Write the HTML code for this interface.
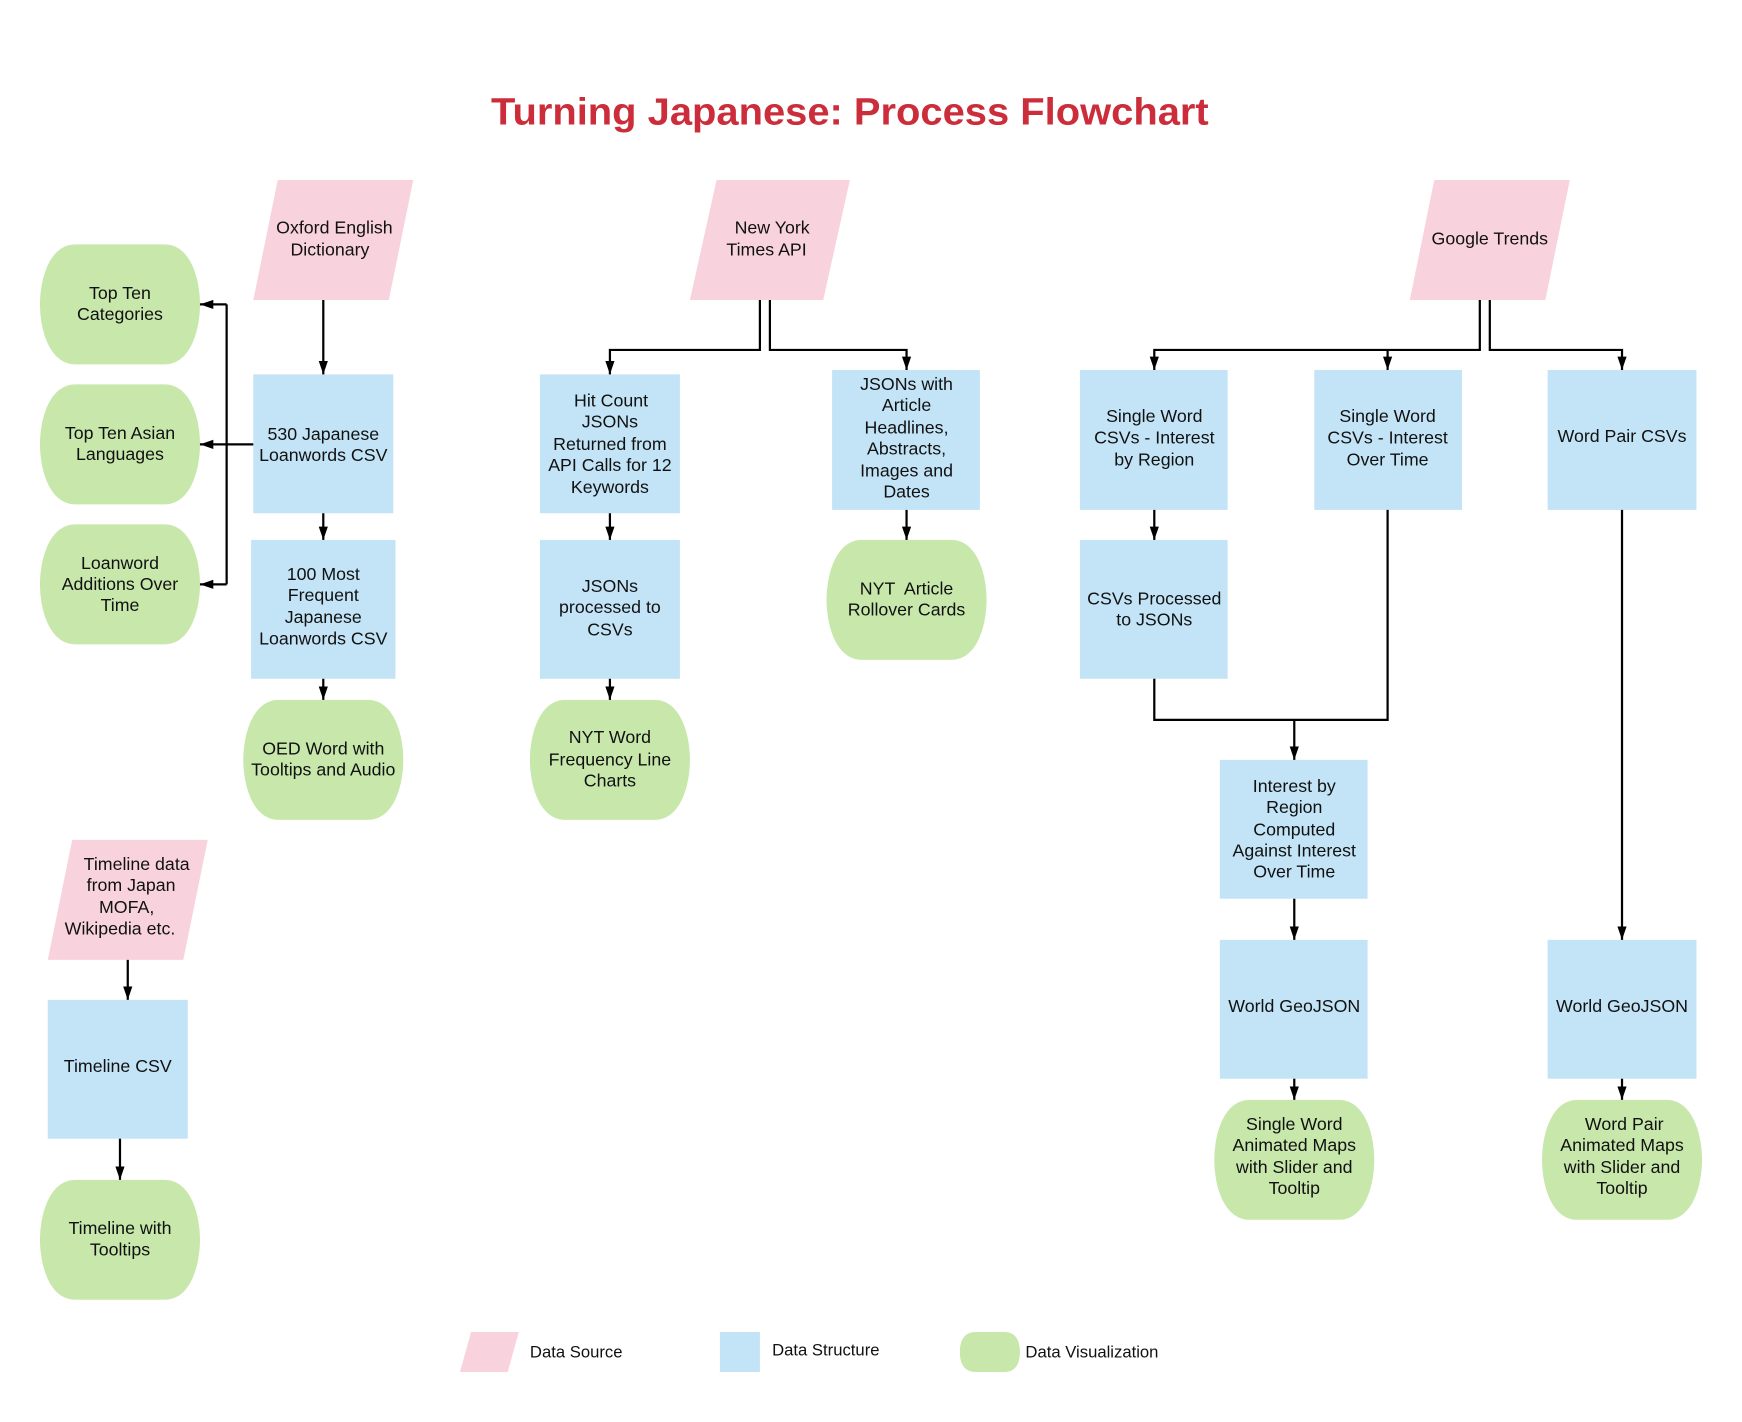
<!DOCTYPE html>
<html><head><meta charset="utf-8"><style>
html,body{margin:0;padding:0;background:#fff;}
svg{display:block;}
text{font-family:"Liberation Sans",Arial,sans-serif;font-size:16px;fill:#111;}
</style></head><body>
<svg width="1742" height="1422" viewBox="0 0 1568 1280" preserveAspectRatio="none" xmlns="http://www.w3.org/2000/svg">
<defs>
<marker id="a" markerUnits="userSpaceOnUse" markerWidth="12" markerHeight="17" refX="16" refY="5.5" orient="auto" viewBox="0 0 16 11">
<path d="M0,0 L16,5.5 L0,11 Z" fill="#000"/></marker>
</defs>
<rect width="1568" height="1280" fill="#fff"/>
<text x="765" y="112" text-anchor="middle" textLength="646" lengthAdjust="spacingAndGlyphs" style="font-size:34px;font-weight:bold;fill:#cc2d3b">Turning Japanese: Process Flowchart</text>

<g fill="#f8d3de">
<polygon points="250,162 372,162 350,270 228,270"/>
<polygon points="645,162 765,162 741,270 621,270"/>
<polygon points="1291,162 1413,162 1391,270 1269,270"/>
<polygon points="65,756 187,756 165,864 43,864"/>
<polygon points="424,1199 467,1199 457,1235 414,1235"/>
</g>
<g fill="#c3e4f6">
<rect x="228" y="337" width="126" height="125"/>
<rect x="226" y="486" width="130" height="125"/>
<rect x="486" y="337" width="126" height="125"/>
<rect x="486" y="486" width="126" height="125"/>
<rect x="749" y="333" width="133" height="126"/>
<rect x="972" y="333" width="133" height="126"/>
<rect x="1183" y="333" width="133" height="126"/>
<rect x="1393" y="333" width="134" height="126"/>
<rect x="972" y="486" width="133" height="125"/>
<rect x="1098" y="684" width="133" height="125"/>
<rect x="1098" y="846" width="133" height="125"/>
<rect x="1393" y="846" width="134" height="125"/>
<rect x="43" y="900" width="126" height="125"/>
<rect x="648" y="1199" width="36" height="36"/>
</g>
<g fill="#c7e7ab">
<path id="g1" d="M68,220 H148 C172,220 180,252 180,274 C180,296 172,328 148,328 H68 C44,328 36,296 36,274 C36,252 44,220 68,220 Z"/>
<use href="#g1" y="126"/>
<use href="#g1" y="252"/>
<use href="#g1" x="183" y="410"/>
<use href="#g1" x="441" y="410"/>
<use href="#g1" x="708" y="266"/>
<use href="#g1" x="1057" y="770"/>
<use href="#g1" x="1352" y="770"/>
<use href="#g1" y="842"/>
<path d="M878,1199 H904 C915,1199 918,1208 918,1217 C918,1226 915,1235 904,1235 H878 C867,1235 864,1226 864,1217 C864,1208 867,1199 878,1199 Z"/>
</g>

<g stroke="#000" stroke-width="2" fill="none">
<path d="M291,270 V337" marker-end="url(#a)"/>
<path d="M291,462 V486" marker-end="url(#a)"/>
<path d="M291,611 V630" marker-end="url(#a)"/>
<path d="M228,400 H180" marker-end="url(#a)"/>
<path d="M204,274 V526"/>
<path d="M204,274 H180" marker-end="url(#a)"/>
<path d="M204,526 H180" marker-end="url(#a)"/>
<path d="M684,270 V315 H549 V337" marker-end="url(#a)"/>
<path d="M693,270 V315 H816 V333" marker-end="url(#a)"/>
<path d="M549,462 V486" marker-end="url(#a)"/>
<path d="M549,611 V630" marker-end="url(#a)"/>
<path d="M816,459 V486" marker-end="url(#a)"/>
<path d="M1332,270 V315 H1039 V333" marker-end="url(#a)"/>
<path d="M1249,315 V333" marker-end="url(#a)"/>
<path d="M1341,270 V315 H1460 V333" marker-end="url(#a)"/>
<path d="M1039,459 V486" marker-end="url(#a)"/>
<path d="M1039,611 V648 H1249 V459"/>
<path d="M1165,648 V684" marker-end="url(#a)"/>
<path d="M1165,809 V846" marker-end="url(#a)"/>
<path d="M1165,971 V990" marker-end="url(#a)"/>
<path d="M1460,459 V846" marker-end="url(#a)"/>
<path d="M1460,971 V990" marker-end="url(#a)"/>
<path d="M115,864 V900" marker-end="url(#a)"/>
<path d="M108,1025 V1062" marker-end="url(#a)"/>
</g>

<g text-anchor="middle">
<text x="301" y="210">Oxford English</text><text x="297" y="230">Dictionary</text>
<text x="695" y="210">New York</text><text x="690" y="230">Times API</text>
<text x="1341" y="220">Google Trends</text>
<text x="123" y="783">Timeline data</text><text x="118" y="802">from Japan</text><text x="114" y="822">MOFA,</text><text x="108" y="841">Wikipedia etc.</text>
<text x="108" y="269">Top Ten</text><text x="108" y="288">Categories</text>
<text x="108" y="395">Top Ten Asian</text><text x="108" y="414">Languages</text>
<text x="108" y="512">Loanword</text><text x="108" y="531">Additions Over</text><text x="108" y="550">Time</text>
<text x="291" y="396">530 Japanese</text><text x="291" y="415">Loanwords CSV</text>
<text x="291" y="522">100 Most</text><text x="291" y="541">Frequent</text><text x="291" y="561">Japanese</text><text x="291" y="580">Loanwords CSV</text>
<text x="291" y="679">OED Word with</text><text x="291" y="698">Tooltips and Audio</text>
<text x="550" y="366">Hit Count</text><text x="549" y="385">JSONs</text><text x="549" y="405">Returned from</text><text x="549" y="424">API Calls for 12</text><text x="549" y="444">Keywords</text>
<text x="549" y="533">JSONs</text><text x="549" y="552">processed to</text><text x="549" y="572">CSVs</text>
<text x="549" y="669">NYT Word</text><text x="549" y="689">Frequency Line</text><text x="549" y="708">Charts</text>
<text x="816" y="351">JSONs with</text><text x="816" y="370">Article</text><text x="816" y="390">Headlines,</text><text x="816" y="409">Abstracts,</text><text x="816" y="429">Images and</text><text x="816" y="448">Dates</text>
<text x="816" y="535" xml:space="preserve">NYT  Article</text><text x="816" y="554">Rollover Cards</text>
<text x="1039" y="380">Single Word</text><text x="1039" y="399">CSVs - Interest</text><text x="1039" y="419">by Region</text>
<text x="1249" y="380">Single Word</text><text x="1249" y="399">CSVs - Interest</text><text x="1249" y="419">Over Time</text>
<text x="1460" y="398">Word Pair CSVs</text>
<text x="1039" y="544">CSVs Processed</text><text x="1039" y="563">to JSONs</text>
<text x="1165" y="713">Interest by</text><text x="1165" y="732">Region</text><text x="1165" y="752">Computed</text><text x="1165" y="771">Against Interest</text><text x="1165" y="790">Over Time</text>
<text x="1165" y="911">World GeoJSON</text>
<text x="1460" y="911">World GeoJSON</text>
<text x="1165" y="1017">Single Word</text><text x="1165" y="1036">Animated Maps</text><text x="1165" y="1056">with Slider and</text><text x="1165" y="1075">Tooltip</text>
<text x="1462" y="1017">Word Pair</text><text x="1460" y="1036">Animated Maps</text><text x="1460" y="1056">with Slider and</text><text x="1460" y="1075">Tooltip</text>
<text x="106" y="965">Timeline CSV</text>
<text x="108" y="1111">Timeline with</text><text x="108" y="1130">Tooltips</text>
</g>
<g>
<text x="477" y="1222" style="font-size:15px">Data Source</text>
<text x="695" y="1220" style="font-size:15px">Data Structure</text>
<text x="923" y="1222" style="font-size:15px">Data Visualization</text>
</g>
</svg>
</body></html>
